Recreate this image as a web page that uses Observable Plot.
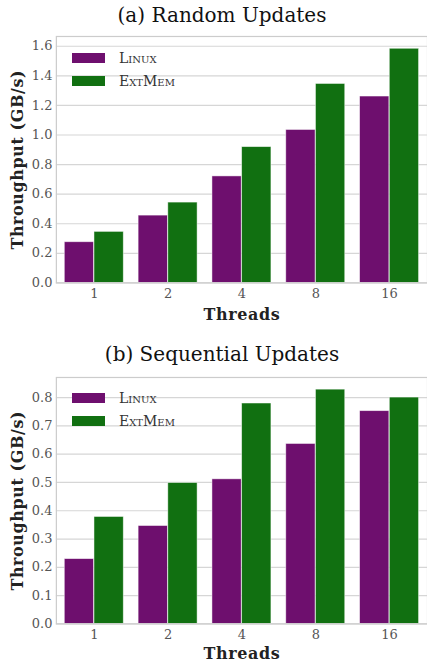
<!DOCTYPE html>
<html><head><meta charset="utf-8">
<script src="https://cdn.jsdelivr.net/npm/d3@7"></script>
<script src="https://cdn.jsdelivr.net/npm/@observablehq/plot@0.6"></script>
<style>
body{margin:0;width:427px;height:663px;overflow:hidden;background:#fff;font-family:"DejaVu Serif";position:relative;}
.title{width:444px;text-align:center;font-size:20px;height:30px;line-height:30px;color:#111;white-space:nowrap;}
.legend{position:absolute;left:72px;font-size:14px;font-variant:small-caps;color:#333;}
.legend div{display:flex;align-items:center;height:23px;}
.sw{width:33px;height:10px;margin-right:14px;}
svg{display:block;overflow:visible;}
g[aria-label="y-axis label"] text{font-weight:bold;font-size:16px;font-family:"DejaVu Serif";fill:#222;letter-spacing:0.6px;}
g[aria-label="x-axis label"] text{font-weight:bold;font-size:16px;font-family:"DejaVu Serif";fill:#222;letter-spacing:0.6px;}
g[aria-label="y-axis tick label"] text, g[aria-label="x-axis tick label"] text{fill:#555;}
</style></head><body>
<div id="chart"></div>
<script>
const threads = ["1","2","4","8","16"];
const systems = ["Linux","ExtMem"];
const randomLinux = [0.275,0.455,0.72,1.034,1.26];
const randomExtMem = [0.345,0.543,0.918,1.345,1.583];
const seqLinux = [0.229,0.346,0.511,0.636,0.752];
const seqExtMem = [0.378,0.498,0.779,0.828,0.80];
const colors = ["#6e0f6e","#117011"];
const yTicksA = [0,0.2,0.4,0.6,0.8,1.0,1.2,1.4,1.6];
const yTicksB = [0,0.1,0.2,0.3,0.4,0.5,0.6,0.7,0.8];
const serif = '"DejaVu Serif"';
const panels = [
  {title:"(a) Random Updates", linux:randomLinux, ext:randomExtMem, ticks:yTicksA, ymax:1.666, marginTop:6, marginBottom:45, gap:0, legendTop:46, xLabelOffset:37},
  {title:"(b) Sequential Updates", linux:seqLinux, ext:seqExtMem, ticks:yTicksB, ymax:0.871, marginTop:8, marginBottom:39, gap:12, legendTop:386, xLabelOffset:35}
];
const root = document.getElementById("chart");
const plotH = 247;
for (const p of panels) {
  const t = document.createElement("div");
  t.className = "title";
  t.style.marginTop = p.gap + "px";
  t.textContent = p.title;
  root.appendChild(t);
  const rows = [];
  threads.forEach((th,i)=>{
    rows.push({threads:th, system:systems[0], value:p.linux[i]});
    rows.push({threads:th, system:systems[1], value:p.ext[i]});
  });
  const linuxRows = rows.filter(d=>d.system===systems[0]);
  const extRows = rows.filter(d=>d.system===systems[1]);
  const bw = (428-56)/threads.length;
  const svg = Plot.plot({
    width: 428,
    height: plotH + p.marginTop + p.marginBottom,
    marginLeft: 56, marginRight: 0, marginTop: p.marginTop, marginBottom: p.marginBottom,
    style: {fontFamily: serif, fontSize: "13px", background: "white"},
    x: {domain: threads, padding: 0, label: null},
    y: {domain: [0, p.ymax], label: null},
    marks: [
      Plot.gridY(p.ticks, {stroke: "#d6d6d6", strokeOpacity: 1, strokeWidth: 1.2}),
      Plot.barY(linuxRows, {x: "threads", y: "value", fill: colors[0], stroke: "white", strokeWidth: 0.8, strokeOpacity: 0.6,
        insetLeft: bw*0.1, insetRight: bw*0.5}),
      Plot.barY(extRows, {x: "threads", y: "value", fill: colors[1], stroke: "white", strokeWidth: 0.8, strokeOpacity: 0.6,
        insetLeft: bw*0.5, insetRight: bw*0.1}),
      Plot.frame({stroke: "#cccccc", strokeWidth: 1.2}),
      Plot.axisY({ticks: p.ticks, tickFormat: d3.format(".1f"), tickSize: 0, tickPadding: 4,
        label: "Throughput (GB/s)", labelAnchor: "center", labelArrow: "none", labelOffset: 45}),
      Plot.axisX({tickSize: 0, tickPadding: 6, label: "Threads", labelAnchor: "center", labelArrow: "none", labelOffset: p.xLabelOffset})
    ]
  });
  root.appendChild(svg);
  const lg = document.createElement("div");
  lg.className = "legend";
  lg.style.top = p.legendTop + "px";
  systems.forEach((s,i)=>{
    const r = document.createElement("div");
    const sw = document.createElement("span");
    sw.className = "sw"; sw.style.background = colors[i];
    r.appendChild(sw);
    r.appendChild(document.createTextNode(s));
    lg.appendChild(r);
  });
  document.body.appendChild(lg);
}
</script>
</body></html>
